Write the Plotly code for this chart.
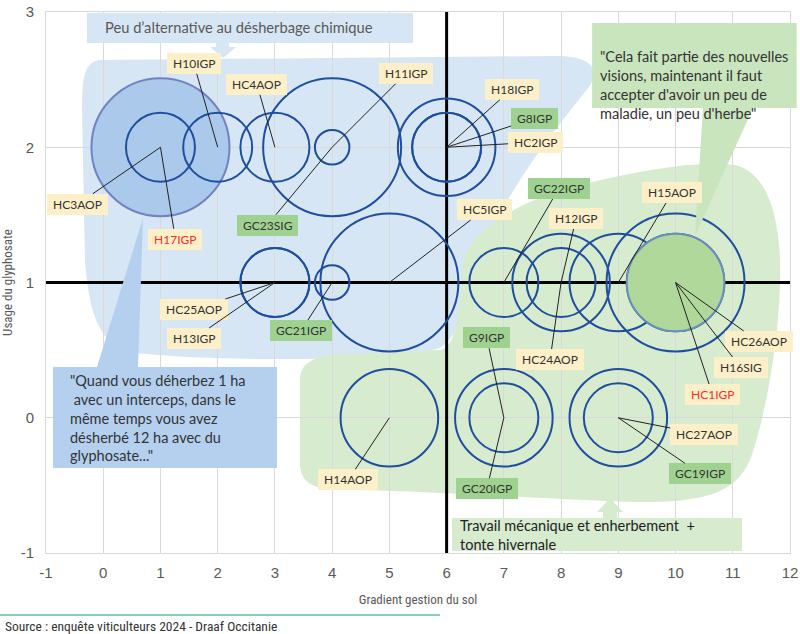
import plotly.graph_objects as go

# ---------------- data ----------------
noms = ["H17IGP", "HC3AOP", "H10IGP", "HC4AOP", "H11IGP", "GC23SIG",
        "H18IGP", "G8IGP", "HC2IGP", "HC25AOP", "H13IGP", "GC21IGP",
        "HC5IGP", "GC22IGP", "H12IGP", "HC24AOP", "H15AOP", "HC26AOP",
        "H16SIG", "HC1IGP", "H14AOP", "G9IGP", "GC20IGP", "HC27AOP", "GC19IGP"]
gradient_sol = [1, 1, 2, 3, 4, 4, 6, 6, 6, 3, 3, 4, 5, 7, 8, 8, 9, 10, 10, 10, 5, 7, 7, 9, 9]
usage_glypho = [2, 2, 2, 2, 2, 2, 2, 2, 2, 1, 1, 1, 1, 1, 1, 1, 1, 1, 1, 1, 0, 0, 0, 0, 0]
poids = [16, 4, 4, 4, 16, 1, 8, 4, 4, 4, 4, 1, 16, 4, 8, 4, 8, 16, 8, 8, 8, 4, 8, 4, 8]
mis_en_avant = ["H17IGP", "HC1IGP"]

x_ticks = list(range(-1, 13))
x_tick_labels = ["-1", "0", "1", "2", "3", "4", "5", "6", "7", "8", "9", "10", "11", "12"]
y_ticks = [-1, 0, 1, 2, 3]
y_tick_labels = ["-1", "0", "1", "2", "3"]

titre_x = "Gradient gestion du sol"
titre_y = "Usage du glyphosate"
source = "Source : enquête viticulteurs 2024 - Draaf Occitanie"
bandeau_haut = "Peu d’alternative au désherbage chimique"
bandeau_bas = "Travail mécanique et enherbement \u00a0+<br>tonte hivernale"
citation_bleue = ("\"Quand vous déherbez 1 ha<br>\u00a0avec un interceps, dans le<br>"
                  "même temps vous avez<br>désherbé 12 ha avec du<br>glyphosate...\"")
citation_verte = ("\"Cela fait partie des nouvelles<br>visions, maintenant il faut<br>"
                  "accepter d'avoir un peu de<br>maladie, un peu d'herbe\"")

# ---------------- styles / layout positions ----------------
label_offsets = {
    "H17IGP": (15, 92), "HC3AOP": (-83, 57), "H10IGP": (-24, -84), "HC4AOP": (-18, -63),
    "H11IGP": (74, -74), "GC23SIG": (-65, 78), "H18IGP": (65, -58), "G8IGP": (88, -29),
    "HC2IGP": (89, -5), "HC25AOP": (-81, 27), "H13IGP": (-81, 56), "GC21IGP": (-31, 48),
    "HC5IGP": (95, -73), "GC22IGP": (55, -94), "H12IGP": (15, -64), "HC24AOP": (-11, 77),
    "H15AOP": (54, -90), "HC26AOP": (83, 59), "H16SIG": (65, 85), "HC1IGP": (37, 112),
    "H14AOP": (-41, 62), "G9IGP": (-17, -80), "GC20IGP": (-17, 71), "HC27AOP": (86, 17),
    "GC19IGP": (82, 56),
}
CIRCLE_LINE = "#1f4e9e"
FILL = {"H17IGP": ("#abc9eb", "#7182c3"), "HC1IGP": ("#b1d89b", "#6a8fb8")}
BLOB_BLUE = "#d7e6f5"
BLOB_GREEN = "#d7ebcf"
BOX_BLUE = "#b4d0ee"
BOX_GREEN = "#c9e5bd"
LBL_YELLOW = "#fdf0c9"
LBL_GREEN = "#9fd290"
FONT = "Lato, 'Open Sans', sans-serif"
NARROW = "'Liberation Sans Narrow', 'Roboto Condensed', 'Liberation Sans', sans-serif"

fill_colors = [FILL[n][0] if n in mis_en_avant else "rgba(0,0,0,0)" for n in noms]
line_colors = [FILL[n][1] if n in mis_en_avant else CIRCLE_LINE for n in noms]

fig = go.Figure()
fig.add_trace(go.Scatter(
    x=gradient_sol, y=usage_glypho, mode="markers",
    marker=dict(size=poids, sizemode="area", sizeref=2 * max(poids) / 138 ** 2,
                color=fill_colors, line=dict(color=line_colors, width=2), opacity=1),
    hoverinfo="skip", showlegend=False, cliponaxis=False,
))

annotations = []
for n, x, y in zip(noms, gradient_sol, usage_glypho):
    ax, ay = label_offsets[n]
    annotations.append(dict(
        x=x, y=y, xref="x", yref="y", ax=ax, ay=ay,
        text="\u00a0" + n + "\u00a0", showarrow=True, arrowhead=0, arrowwidth=1,
        arrowcolor="#222222", standoff=0,
        bgcolor=LBL_GREEN if n.startswith("G") else LBL_YELLOW,
        borderpad=3, borderwidth=0,
        font=dict(family=FONT, size=12, color="#ff2b2b" if n in mis_en_avant else "#333333"),
    ))

# quotes & banners text
annotations += [
    dict(x=0.0, y=2.889, xref="x", yref="y", text=bandeau_haut, showarrow=False,
         xanchor="left", yanchor="middle", font=dict(family=FONT, size=14.7, color="#595959")),
    dict(x=6.2, y=-0.865, xref="x", yref="y", text=bandeau_bas, showarrow=False,
         xanchor="left", yanchor="middle", align="left",
         font=dict(family=FONT, size=14.5, color="#222222")),
    dict(x=-0.616, y=0.0, xref="x", yref="y", text=citation_bleue, showarrow=False,
         xanchor="left", yanchor="middle", align="left",
         font=dict(family=FONT, size=14.5, color="#333333")),
    dict(x=8.646, y=2.46, xref="x", yref="y", text=citation_verte, showarrow=False,
         xanchor="left", yanchor="middle", align="left",
         font=dict(family=FONT, size=14.5, color="#333333")),
    dict(x=-0.0578, y=-0.135, xref="paper", yref="paper", text=source, showarrow=False,
         xanchor="left", yanchor="middle", font=dict(family=NARROW, size=13.5, color="#333333")),
]

blue_blob = ("M -0.056 2.645 L 7.894 2.675 C 8.68 2.675 8.68 2.534 8.418 2.408 "
             "C 7.894 2.128 7.108 1.721 6.636 1.24 C 6.269 0.871 6.269 0.612 5.885 0.516 "
             "C 5.186 0.412 1.691 0.412 0.468 0.486 C -0.144 0.538 -0.266 0.871 -0.319 1.166 "
             "L -0.371 2.275 C -0.371 2.534 -0.319 2.63 -0.056 2.645 Z")
green_blob = ("M 3.438 0.279 C 3.438 0.427 3.788 0.464 4.225 0.471 L 5.885 0.501 "
              "C 6.199 0.516 6.234 0.871 6.286 1.152 C 6.409 1.388 7.282 1.61 8.331 1.721 "
              "C 9.379 1.832 10.428 1.906 11.039 1.869 C 11.563 1.817 11.791 1.536 11.826 1.166 "
              "C 11.861 0.649 11.563 -0.017 11.301 -0.312 C 11.039 -0.571 10.428 -0.623 9.379 -0.623 "
              "C 7.981 -0.608 5.535 -0.534 4.137 -0.534 C 3.613 -0.534 3.438 -0.46 3.438 -0.335 Z")

shapes = [
    dict(type="path", path=blue_blob, xref="x", yref="y", fillcolor=BLOB_BLUE,
         line=dict(width=0), layer="below"),
    dict(type="path", path=green_blob, xref="x", yref="y", fillcolor=BLOB_GREEN,
         line=dict(width=0), layer="below"),
    # reference lines
    dict(type="line", x0=6, x1=6, y0=-1, y1=3, xref="x", yref="y",
         line=dict(color="black", width=3), layer="between"),
    dict(type="line", x0=-1, x1=12, y0=1, y1=1, xref="x", yref="y",
         line=dict(color="black", width=3), layer="between"),
    # top banner + arrow
    dict(type="rect", x0=-0.284, x1=5.413, y0=2.771, y1=2.993, xref="x", yref="y",
         fillcolor=BLOB_BLUE, line=dict(width=0), layer="above"),
    dict(type="path", path="M 1.97 2.771 L 2.198 2.771 L 2.198 2.741 L 2.32 2.741 L 2.093 2.66 "
         "L 1.866 2.741 L 1.97 2.741 Z", xref="x", yref="y",
         fillcolor=BLOB_BLUE, line=dict(width=0), layer="above"),
    # bottom banner + arrow
    dict(type="rect", x0=6.094, x1=11.162, y0=-0.985, y1=-0.741, xref="x", yref="y",
         fillcolor=BLOB_GREEN, line=dict(width=0), layer="above"),
    dict(type="path", path="M 8.733 -0.741 L 8.977 -0.741 L 8.977 -0.697 L 9.082 -0.697 "
         "L 8.855 -0.593 L 8.628 -0.697 L 8.733 -0.697 Z", xref="x", yref="y",
         fillcolor=BLOB_GREEN, line=dict(width=0), layer="above"),
    # blue quote box + pointer
    dict(type="rect", x0=-0.878, x1=3.036, y0=-0.372, y1=0.375, xref="x", yref="y",
         fillcolor=BOX_BLUE, line=dict(width=0), layer="above"),
    dict(type="path", path="M -0.109 0.375 L 0.608 0.375 L 0.695 1.477 Z", xref="x", yref="y",
         fillcolor=BOX_BLUE, line=dict(width=0), layer="above"),
    # green quote box + pointer
    dict(type="rect", x0=0.734, x1=1.009, y0=0.8226, y1=0.9797, xref="paper", yref="paper",
         fillcolor=BOX_GREEN, line=dict(width=0), layer="above"),
    dict(type="path", path="M 10.48 2.29 L 11.354 2.29 L 10.34 1.344 Z", xref="x", yref="y",
         fillcolor=BOX_GREEN, line=dict(width=0), layer="above"),
    # source rule
    dict(type="line", x0=-0.0618, x1=0.5296, y0=-0.1146, y1=-0.1146, xref="paper", yref="paper",
         line=dict(color="#5dbfa6", width=1.5), layer="above"),
]

axis_common = dict(showgrid=True, gridcolor="#d9d9d9", gridwidth=1, zeroline=False,
                   showline=True, mirror=True, linecolor="#d9d9d9", linewidth=1,
                   ticks="", automargin=False,
                   tickfont=dict(family="'Liberation Sans', sans-serif", size=15,
                                 color="#595959"))

fig.update_layout(
    width=800, height=634,
    margin=dict(l=46, r=10, t=12, b=81, autoexpand=False),
    paper_bgcolor="white", plot_bgcolor="white",
    xaxis=dict(range=[-1, 12], tickvals=x_ticks, ticktext=x_tick_labels, ticklabelstandoff=6,
               title=dict(text=titre_x, standoff=14,
                          font=dict(family=NARROW, size=13, color="#595959")),
               **axis_common),
    yaxis=dict(range=[-1, 3], tickvals=y_ticks, ticktext=y_tick_labels, ticklabelstandoff=8,
               title=dict(text=titre_y, standoff=9,
                          font=dict(family=NARROW, size=13, color="#595959")),
               **axis_common),
    shapes=shapes, annotations=annotations, showlegend=False,
)

fig.write_html("out.html", config={"displayModeBar": False},
               post_script="document.body.style.margin='0';document.body.style.overflow='hidden';")
